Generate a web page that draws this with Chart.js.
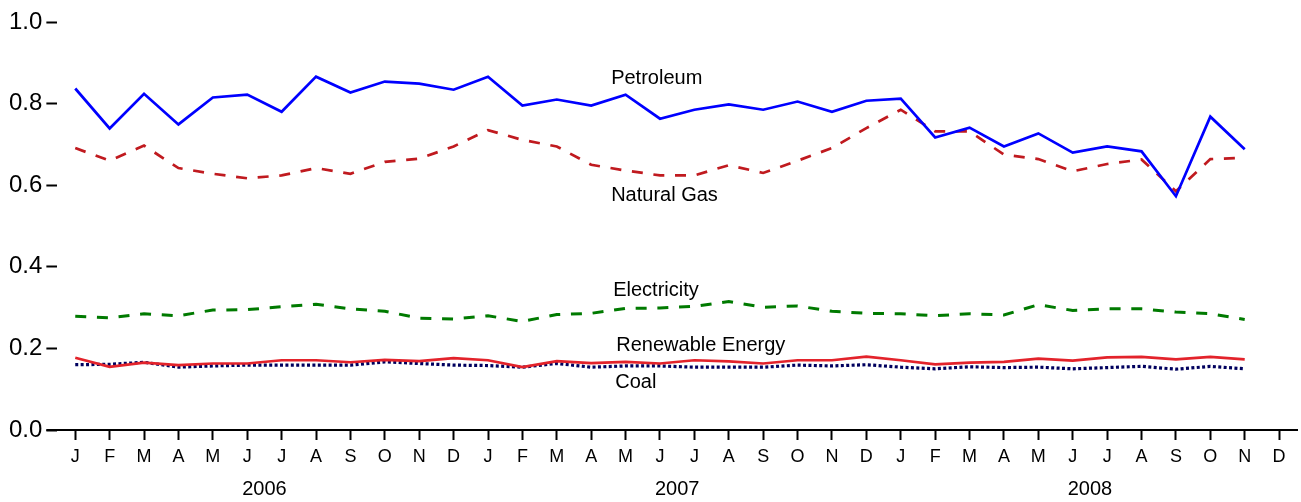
<!DOCTYPE html>
<html>
<head>
<meta charset="utf-8">
<script src="https://cdn.jsdelivr.net/npm/chart.js@4"></script>
<style>
  html, body { margin: 0; padding: 0; background: #fff; }
  #wrap { width: 1301px; height: 502px; }
</style>
</head>
<body>
<div id="wrap"><canvas id="grafico"></canvas></div>
<script>
// Meses de jan/2006 a dez/2008 (dados até nov/2008)
const meses = ["J","F","M","A","M","J","J","A","S","O","N","D"];
const anos = ["2006", "2007", "2008"];

const petroleo = [0.837, 0.739, 0.824, 0.749, 0.815, 0.822, 0.780, 0.866, 0.827, 0.854, 0.849, 0.834,
                  0.866, 0.795, 0.810, 0.795, 0.822, 0.763, 0.785, 0.798, 0.785, 0.805, 0.780, 0.807,
                  0.812, 0.717, 0.741, 0.695, 0.727, 0.680, 0.695, 0.683, 0.573, 0.768, 0.688];
const gasNatural = [0.691, 0.660, 0.697, 0.642, 0.628, 0.617, 0.624, 0.642, 0.628, 0.657, 0.665, 0.695,
                    0.735, 0.711, 0.695, 0.650, 0.636, 0.624, 0.624, 0.649, 0.630, 0.660, 0.691, 0.740,
                    0.785, 0.732, 0.732, 0.675, 0.664, 0.634, 0.652, 0.663, 0.585, 0.664, 0.667];
const eletricidade = [0.279, 0.275, 0.285, 0.280, 0.294, 0.295, 0.302, 0.308, 0.297, 0.291, 0.274, 0.272,
                      0.280, 0.266, 0.283, 0.286, 0.298, 0.299, 0.303, 0.315, 0.301, 0.304, 0.291, 0.286,
                      0.285, 0.280, 0.285, 0.282, 0.307, 0.293, 0.297, 0.297, 0.289, 0.285, 0.271];
const renovavel = [0.177, 0.155, 0.165, 0.159, 0.163, 0.163, 0.171, 0.171, 0.166, 0.172, 0.169, 0.176,
                   0.171, 0.154, 0.169, 0.164, 0.167, 0.163, 0.171, 0.168, 0.163, 0.171, 0.171, 0.180,
                   0.171, 0.161, 0.165, 0.167, 0.175, 0.170, 0.178, 0.179, 0.173, 0.179, 0.173];
const carvao = [0.160, 0.161, 0.166, 0.154, 0.157, 0.159, 0.159, 0.159, 0.159, 0.167, 0.163, 0.159,
                0.158, 0.154, 0.163, 0.154, 0.157, 0.157, 0.154, 0.154, 0.154, 0.159, 0.157, 0.160,
                0.154, 0.150, 0.155, 0.153, 0.154, 0.150, 0.153, 0.156, 0.149, 0.156, 0.150];

const yTicks = [0, 0.2, 0.4, 0.6, 0.8, 1.0];

// Rótulos das séries: [texto, índice do mês, valor]
const rotulos = [
  ["Petroleum", 15.58, 0.862],
  ["Natural Gas", 15.58, 0.575],
  ["Electricity", 15.64, 0.343],
  ["Renewable Energy", 15.73, 0.207],
  ["Coal", 15.70, 0.117]
];

const indices = [];
for (let i = 0; i < 36; i++) indices.push(i);

function pontos(valores) {
  return valores.map((v, i) => ({ x: i, y: v }));
}

const fonte = "'Liberation Sans', Arial, sans-serif";

const pluginExtras = {
  id: "extras",
  afterDraw(chart) {
    const ctx = chart.ctx;
    const xs = chart.scales.x;
    const ys = chart.scales.y;
    const area = chart.chartArea;
    ctx.save();
    // prolonga o eixo x até o início dos ticks do eixo y
    ctx.strokeStyle = "#000";
    ctx.lineWidth = 2;
    ctx.beginPath();
    ctx.moveTo(area.left - 11, ys.getPixelForValue(0));
    ctx.lineTo(area.left, ys.getPixelForValue(0));
    ctx.stroke();

    // anos
    ctx.fillStyle = "#000";
    ctx.font = "20px " + fonte;
    ctx.textAlign = "center";
    ctx.textBaseline = "middle";
    anos.forEach((ano, k) => {
      const meio = (xs.getPixelForValue(k * 12) + xs.getPixelForValue(k * 12 + 11)) / 2;
      ctx.fillText(ano, meio, 489);
    });

    // rótulos das séries
    ctx.font = "20px " + fonte;
    ctx.textAlign = "left";
    rotulos.forEach(r => {
      ctx.fillText(r[0], xs.getPixelForValue(r[1]), ys.getPixelForValue(r[2]));
    });
    ctx.restore();
  }
};

new Chart(document.getElementById("grafico"), {
  type: "line",
  data: {
    datasets: [
      { label: "Renewable Energy", data: pontos(renovavel), borderColor: "#e3232b", borderWidth: 2.7 },
      { label: "Coal", data: pontos(carvao), borderColor: "#00005e", borderWidth: 3.2, borderDash: [3, 2.4], borderCapStyle: "butt" },
      { label: "Petroleum", data: pontos(petroleo), borderColor: "#0000ff", borderWidth: 2.7 },
      { label: "Natural Gas", data: pontos(gasNatural), borderColor: "#c01a1f", borderWidth: 2.7, borderDash: [11, 10.7] },
      { label: "Electricity", data: pontos(eletricidade), borderColor: "#007a00", borderWidth: 3, borderDash: [11, 10.7] }
    ]
  },
  options: {
    responsive: true,
    maintainAspectRatio: false,
    animation: false,
    layout: { padding: { left: 5, right: 4, top: 22, bottom: 0 } },
    elements: {
      point: { radius: 0 },
      line: { tension: 0, fill: false, borderJoinStyle: "miter" }
    },
    plugins: {
      legend: { display: false },
      tooltip: { enabled: false }
    },
    scales: {
      x: {
        type: "linear",
        min: -0.52,
        max: 35.52,
        afterBuildTicks: s => { s.ticks = indices.map(v => ({ value: v })); },
        afterFit: s => { s.height = 72; },
        ticks: {
          autoSkip: false,
          maxRotation: 0,
          padding: 6,
          color: "#000",
          font: { family: fonte, size: 18 },
          callback: v => meses[v % 12]
        },
        grid: { drawOnChartArea: false, tickLength: 10, tickWidth: 2, color: "#000" },
        border: { display: true, color: "#000", width: 2 }
      },
      y: {
        min: 0,
        max: 1,
        afterBuildTicks: s => { s.ticks = yTicks.map(v => ({ value: v })); },
        ticks: {
          padding: 4,
          color: "#000",
          font: { family: fonte, size: 24 },
          callback: v => v.toFixed(1)
        },
        grid: { drawOnChartArea: false, tickLength: 11, tickWidth: 2, color: "#000" },
        border: { display: false }
      }
    }
  },
  plugins: [pluginExtras]
});
</script>
</body>
</html>
